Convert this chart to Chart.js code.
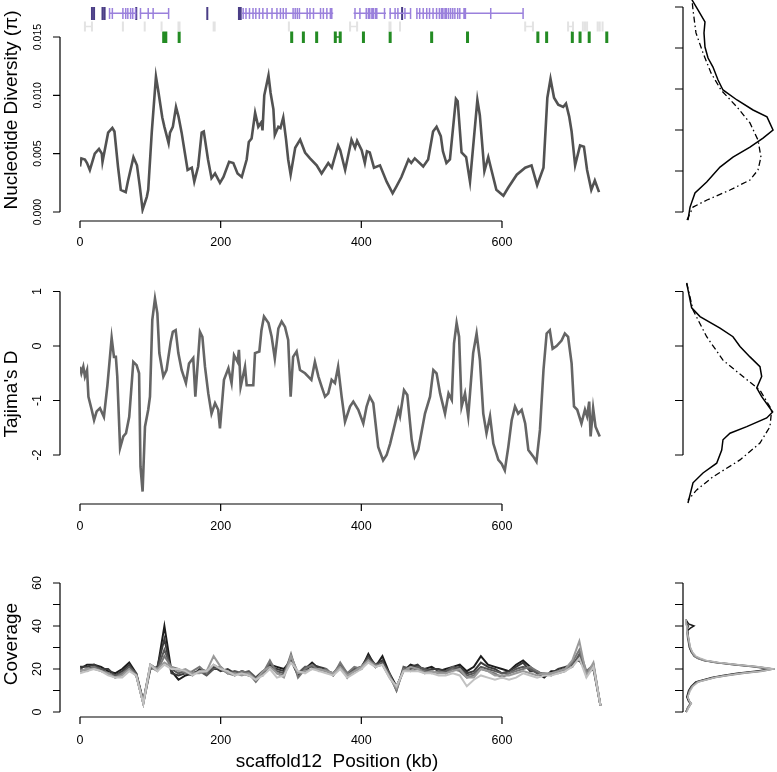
<!DOCTYPE html>
<html>
<head>
<meta charset="utf-8">
<script src="https://cdn.jsdelivr.net/npm/chart.js@4.4.1/dist/chart.umd.min.js"></script>
<style>
html, body { margin: 0; padding: 0; background: #fff; overflow: hidden; }
canvas { position: absolute; }
</style>
</head>
<body>
<canvas id="piChart" width="640" height="260" style="left:0;top:0"></canvas>
<canvas id="piDens" width="137" height="260" style="left:640px;top:0"></canvas>
<canvas id="tajChart" width="640" height="280" style="left:0;top:260px"></canvas>
<canvas id="tajDens" width="137" height="280" style="left:640px;top:260px"></canvas>
<canvas id="covChart" width="640" height="232" style="left:0;top:540px"></canvas>
<canvas id="covDens" width="137" height="232" style="left:640px;top:540px"></canvas>
<script>
// nucleotide diversity along scaffold12 (position in kb)
var piPos = [0,2,7,10,14,21,27,31,32,40,46,49,54,58,65,68,76,81,85,89,95,97,102,108,111,117,120,126,128,132,
  136.5,140,144.5,149,153,159,162.5,168,173,176,182,187,192,199,204,212,218,224,230,237,240,244,249,253.5,258,259.5,
  262,268,271,275,277,282,285,289,293,296,299.5,306,313,320,327,336.5,343.5,353,358,367,370,377,386,391,394,400.5,
  405,408,412,418,426.5,436,444.5,450,457,467,471,476,488,495,502,507,513,516,521,526,534.5,537,542.5,549,554.5,
  565,568.5,575,580.5,585,592,602,609,621,633,642,650,659,664.5,669,674,680,687,691,695.5,699,704,711,716.5,721,
  727,732,738];
var piVal = [0.0039,0.0046,0.0045,0.0042,0.0036,0.0050,0.0054,0.0050,0.0043,0.0068,0.0072,0.0069,0.0039,0.0019,
  0.0017,0.0026,0.0047,0.0040,0.0022,0.0002,0.0013,0.0019,0.0068,0.0116,0.0105,0.0081,0.0073,0.0059,0.0068,0.0073,
  0.0090,0.0082,0.0068,0.0051,0.0036,0.0038,0.0026,0.0039,0.0068,0.0069,0.0045,0.0029,0.0033,0.0025,0.0030,0.0043,
  0.0042,0.0033,0.0030,0.0045,0.0060,0.0063,0.0085,0.0073,0.0077,0.0070,0.0100,0.0117,0.0102,0.0088,0.0066,0.0073,
  0.0072,0.0081,0.0062,0.0045,0.0032,0.0055,0.0062,0.0051,0.0046,0.0040,0.0033,0.0042,0.0038,0.0057,0.0053,0.0036,
  0.0062,0.0055,0.0061,0.0053,0.0042,0.0052,0.0051,0.0038,0.0040,0.0026,0.0016,0.0022,0.0030,0.0045,0.0042,0.0046,
  0.0039,0.0045,0.0069,0.0073,0.0065,0.0052,0.0042,0.0045,0.0097,0.0095,0.0051,0.0047,0.0026,0.0096,0.0083,0.0035,
  0.0047,0.0036,0.0019,0.0014,0.0021,0.0032,0.0038,0.0040,0.0023,0.0038,0.0098,0.0114,0.0098,0.0092,0.0090,0.0093,
  0.0082,0.0069,0.0040,0.0057,0.0056,0.0036,0.0019,0.0027,0.0017];

// Tajima's D
var tajPos = [0,2,4.7,7,10,12,16.6,20,23.7,28.4,34,39,45,48.3,51,53,57,61.6,65.4,70,75.8,80.5,84,86,89,92.4,97,
  99.5,102.8,106.6,110,112.8,118.5,123,129,132,136,139.8,144.5,150.6,155,161,164,170.6,174,177.7,182.4,187,192,
  196.5,199,204.7,211,215.5,219,224,226,228.4,234.6,237,246.4,248.8,255,258,261.6,268,272.5,277,282,286.7,291.5,
  296,299.5,303,308,312.8,320,329,334,339,343.7,348.4,353,357.8,362.5,367,372,376.8,383.9,388.6,395.7,402.8,407.5,
  412,417,424,431,436,441,448,452.6,455,460.7,465.4,471.6,476,481,490.5,497.7,502.4,507,512,519,524,528.6,531.8,
  535.5,539,542.6,547.4,552,559,563.9,568.6,573.4,578,583,587.7,594.8,599.5,604,609,613.8,618.5,623,628,633,637.5,
  644.6,649,654,659,663.5,668,672,677.6,684.7,689.4,694,699,702.4,707,713,718,721,724,726,729.6,733,739];
var tajVal = [-0.38,-0.50,-0.38,-0.56,-0.44,-0.93,-1.17,-1.36,-1.20,-1.14,-1.30,-0.72,0.15,-0.20,-0.20,-0.56,-1.87,
  -1.66,-1.60,-1.30,-0.29,-0.35,-0.50,-2.21,-2.67,-1.48,-1.17,-0.93,0.48,0.87,0.60,-0.13,-0.56,-0.44,0.08,0.26,0.29,
  -0.13,-0.44,-0.68,-0.32,-0.22,-0.93,0.26,0.17,-0.38,-0.87,-1.24,-1.05,-1.17,-1.51,-0.62,-0.41,-0.68,-0.17,-0.29,
  -0.07,-0.75,-0.38,-0.72,-0.72,-0.13,-0.10,0.29,0.54,0.42,0.17,-0.23,0.32,0.45,0.35,0.11,-0.93,-0.20,-0.10,-0.44,
  -0.50,-0.62,-0.29,-0.56,-0.75,-0.93,-0.87,-0.62,-0.68,-0.38,-0.93,-1.39,-1.11,-1.02,-1.17,-1.42,-1.11,-0.93,-1.05,
  -1.85,-2.10,-2.00,-1.79,-1.42,-1.17,-1.29,-0.81,-0.90,-1.72,-2.03,-1.90,-1.24,-0.93,-0.44,-0.50,-0.87,-1.24,-0.87,
  -0.99,0.05,0.42,0.17,-1.11,-0.87,-1.29,-0.13,0.23,-0.26,-1.24,-1.60,-1.29,-1.79,-2.09,-2.16,-2.28,-1.85,-1.36,
  -1.11,-1.24,-1.17,-1.42,-1.91,-2.03,-2.12,-1.54,-0.44,0.23,0.29,-0.05,0.00,0.10,0.23,0.17,-0.32,-1.11,-1.17,-1.42,
  -1.17,-1.29,-1.02,-1.66,-1.14,-1.48,-1.66];

// coverage per sample, 10 kb windows
var covPos = [0,10,20,30,40,50,60,70,80,90,100,110,120,130,140,150,160,170,180,190,200,210,220,230,240,250,260,
  270,280,290,300,310,320,330,340,350,360,370,380,390,400,410,420,430,440,450,460,470,480,490,500,510,520,530,540,
  550,560,570,580,590,600,610,620,630,640,650,660,670,680,690,700,710,720,730,740];
var covS1 = [20,22,22,21,19,18,20,23,18,5,21,20,40,19,15,17,18,19,18,20,20,19,17,19,18,15,18,22,21,20,24,17,20,23,
  20,19,18,21,17,19,20,27,21,26,18,12,19,22,21,20,21,19,20,21,22,19,21,26,22,21,20,19,22,24,21,18,16,19,19,20,23,
  24,19,21,3];
var covS2 = [21,21,22,20,20,17,19,22,17,4,20,21,34,18,17,18,17,20,19,21,19,20,18,18,17,16,19,21,20,19,25,18,19,22,
  21,20,17,22,18,20,21,26,22,24,17,11,20,21,22,19,20,20,19,20,21,18,19,23,21,20,18,19,21,23,19,19,17,18,20,21,22,
  26,18,20,3];
var covS3 = [19,20,21,20,18,17,18,21,18,5,22,20,29,20,18,19,18,19,17,20,21,18,19,18,19,16,17,23,19,18,26,18,21,21,
  20,19,18,22,16,20,21,25,21,23,18,10,21,20,21,20,19,18,19,21,20,17,18,21,20,19,18,18,20,21,20,18,18,17,19,20,21,
  27,17,22,3];
var covS4 = [20,19,21,19,18,16,18,20,17,4,21,19,26,21,20,18,19,21,18,22,20,18,17,19,18,14,18,24,18,17,27,16,20,22,
  19,20,17,23,18,21,20,24,22,22,17,10,20,19,20,19,18,19,18,20,19,16,17,20,19,18,16,18,19,20,21,19,17,18,18,19,23,
  29,19,22,3];
var covS5 = [19,20,20,19,18,16,17,20,17,4,22,20,23,21,19,20,18,18,19,26,21,18,18,17,18,15,19,21,18,16,26,18,19,20,
  20,19,18,21,17,19,21,24,21,22,16,11,19,21,20,18,19,18,18,19,20,16,16,20,19,17,17,17,18,19,18,17,18,18,19,20,24,
  33,17,23,3];
var covS6 = [18,19,20,19,17,16,16,19,17,4,22,19,22,20,20,19,17,19,19,22,20,19,17,18,17,15,17,20,16,17,23,19,18,20,
  19,18,17,20,16,18,20,23,21,22,16,12,19,19,19,18,18,17,17,18,17,12,15,17,16,15,16,15,16,18,17,16,17,17,18,19,21,
  25,16,21,3];
var covSeries = [covS1, covS2, covS3, covS4, covS5, covS6];
var covColors = ['#1c1c1c', '#3a3a3a', '#595959', '#777777', '#9a9a9a', '#c2c2c2'];

// gene annotation track (kb)
var geneLines = [[42,80],[85,126],[230,360],[389,435],[440,470],[478,630]];
var exonTicks = [42,46,61,65,68,72,75,79,86,97,104,126,232,236,241,246,250,255,260,266,273,280,285,289,293,303,306,
  309,312,323,327,332,342,346,351,356,358,391,398,407,410,412,415,417,420,422,433,441,448,452,462,470,479,483,488,
  493,497,502,507,511,514,516,519,521,524,527,530,533,537,540,546,548,584,630];
var darkTicks = [17,20,32,35,80,181,226,228.5,458];
var grayTicks = [61,92,116,140,141.5,190,191.5,297,440,441.5,455,715,718,721,736,739,743];
var grayBoxes = [[7,17],[384,394],[633,644],[694,701]];
var greenTicks = [119,122,141,301,317.6,336.5,403,441,500,551,651,663.5,700,711,724,749];
var greenBoxes = [[363,370]];

// marginal densities
var piDensSolidY = [-0.00049,0.0003,0.00116,0.00183,0.00274,0.00335,0.00396,0.00451,0.0050,0.0058,0.00622,0.00683,
  0.00744,0.00805,0.00884,0.00939,0.01006,0.01092,0.01159,0.01232,0.01293];
var piDensSolidX = [0.033,0.056,0.111,0.241,0.389,0.533,0.722,0.867,0.978,0.911,0.756,0.578,0.422,0.367,0.311,0.256,
  0.222,0.211,0.222,0.144,0.078];
var piDensDashY = [-0.00049,0.0003,0.00073,0.00134,0.00195,0.00256,0.00335,0.00439,0.00543,0.0064,0.00744,0.00848,
  0.0097,0.01092,0.01232,0.01293];
var piDensDashX = [0.022,0.089,0.244,0.5,0.722,0.811,0.844,0.811,0.722,0.578,0.4,0.289,0.2,0.122,0.089,0.078];

var tajDensSolidY = [1.15,0.70,0.54,0.33,0.17,-0.01,-0.20,-0.38,-0.56,-0.77,-0.93,-1.21,-1.32,-1.48,-1.60,-1.72,
  -1.91,-2.15,-2.33,-2.51,-2.88];
var tajDensSolidX = [0.019,0.074,0.167,0.389,0.533,0.611,0.722,0.833,0.852,0.797,0.852,0.974,0.908,0.686,0.5,0.422,
  0.408,0.352,0.2,0.089,0.033];
var tajDensDashY = [1.16,0.66,0.17,-0.26,-0.56,-0.81,-1.17,-1.48,-1.78,-2.09,-2.40,-2.64,-2.83];
var tajDensDashX = [0.019,0.089,0.241,0.422,0.644,0.833,0.963,0.944,0.833,0.611,0.311,0.13,0.033];

var covDensY = [0,2,4,5,7,10,12,14,16,17,18,19,20,21,22,23,24,25,26,28,30,34,38,39,40,41,43];
var covDens1 = [.01,.03,.06,.04,.02,.04,.07,.12,.30,.42,.58,.78,.97,.80,.58,.36,.22,.15,.11,.07,.05,.04,.03,.06,.10,.04,.01];
var covDens2 = [.01,.04,.07,.05,.03,.05,.08,.13,.32,.45,.62,.82,.93,.76,.54,.34,.21,.14,.10,.07,.05,.03,.02,.03,.04,.02,.01];
var covDens3 = [.01,.03,.06,.05,.03,.05,.08,.14,.34,.48,.66,.86,.98,.78,.55,.33,.20,.14,.10,.08,.06,.04,.02,.02,.02,.01,.01];
var covDens4 = [.02,.04,.07,.05,.03,.06,.09,.15,.33,.46,.63,.84,.99,.82,.60,.38,.24,.17,.12,.08,.06,.04,.02,.02,.02,.01,.01];
var covDensSeries = [covDens1, covDens2, covDens3, covDens4];
var covDensColors = ['#1c1c1c', '#555555', '#888888', '#b5b5b5'];

var FONT = '"Liberation Sans", Arial, sans-serif';

// R-style axes: detached from the plot region, line only between first and last tick
var rAxes = {
  id: 'rAxes',
  afterDraw: function(chart, args, o) {
    var ctx = chart.ctx, area = chart.chartArea;
    ctx.save();
    ctx.strokeStyle = '#000';
    ctx.fillStyle = '#000';
    ctx.lineWidth = 1.2;
    if (o.x) {
      var sx = chart.scales.x, y0 = area.bottom + o.x.offset;
      var px = o.x.ticks.map(function(v) { return sx.getPixelForValue(v); });
      ctx.beginPath();
      ctx.moveTo(px[0], y0);
      ctx.lineTo(px[px.length - 1], y0);
      px.forEach(function(p) { ctx.moveTo(p, y0); ctx.lineTo(p, y0 + 7); });
      ctx.stroke();
      ctx.font = '12.5px ' + FONT;
      ctx.textAlign = 'center';
      ctx.textBaseline = 'middle';
      o.x.ticks.forEach(function(v, i) { ctx.fillText(String(v), px[i], y0 + o.x.labelGap); });
    }
    if (o.y) {
      var sy = chart.scales.y, x0 = area.left - o.y.offset;
      var py = o.y.ticks.map(function(v) { return sy.getPixelForValue(v); });
      ctx.beginPath();
      ctx.moveTo(x0, py[0]);
      ctx.lineTo(x0, py[py.length - 1]);
      py.forEach(function(p) { ctx.moveTo(x0, p); ctx.lineTo(x0 - o.y.tickLen, p); });
      ctx.stroke();
      if (o.y.labels) {
        ctx.font = o.y.font;
        ctx.textAlign = 'center';
        ctx.textBaseline = 'middle';
        o.y.labels.forEach(function(lab, i) {
          if (!lab) return;
          ctx.save();
          ctx.translate(x0 - o.y.labelGap, py[i]);
          ctx.rotate(-Math.PI / 2);
          ctx.fillText(lab, 0, 0);
          ctx.restore();
        });
      }
    }
    ctx.font = '19px ' + FONT;
    ctx.textAlign = 'center';
    ctx.textBaseline = 'middle';
    if (o.yTitle) {
      ctx.save();
      ctx.translate(o.yTitle.x, o.yTitle.y);
      ctx.rotate(-Math.PI / 2);
      ctx.fillText(o.yTitle.text, 0, 0);
      ctx.restore();
    }
    if (o.xTitle) {
      ctx.fillText(o.xTitle.text, o.xTitle.x, o.xTitle.y);
    }
    ctx.restore();
  }
};

function pairs(xs, ys) {
  return xs.map(function(x, i) { return {x: x, y: ys[i]}; });
}
function tickMarks(pos, lo, hi) {
  var d = [];
  pos.forEach(function(p) { d.push({x: p, y: lo}, {x: p, y: hi}, {x: p, y: null}); });
  return d;
}
function spanMarks(spans, y) {
  var d = [];
  spans.forEach(function(s) { d.push({x: s[0], y: y}, {x: s[1], y: y}, {x: s[1], y: null}); });
  return d;
}
function trackSet(data, color, width) {
  return {data: data, yAxisID: 'track', borderColor: color, borderWidth: width, pointRadius: 0, spanGaps: false};
}

function baseOptions(padding, scales, axes) {
  return {
    responsive: false,
    animation: false,
    events: [],
    layout: {padding: padding},
    plugins: {legend: {display: false}, tooltip: {enabled: false}, rAxes: axes},
    elements: {point: {radius: 0}, line: {tension: 0}},
    scales: scales
  };
}

// ---- top: nucleotide diversity with gene track
new Chart(document.getElementById('piChart'), {
  type: 'line',
  data: {
    datasets: [
      trackSet(spanMarks(geneLines, 20.07), '#9a80dc', 1.5),
      trackSet(tickMarks(exonTicks, 19.5, 20.6), '#9a80dc', 1.5),
      trackSet(tickMarks(darkTicks, 19.4, 20.7), '#4a3d86', 2),
      trackSet(spanMarks(grayBoxes, 18.75), '#e3e3e3', 1.5),
      trackSet(tickMarks(grayBoxes.map(function(b) { return b[0]; }).concat(grayBoxes.map(function(b) { return b[1]; })), 18.25, 19.25), '#e3e3e3', 2),
      trackSet(tickMarks(grayTicks, 18.25, 19.25), '#e3e3e3', 2),
      trackSet(spanMarks(greenBoxes, 17.7), '#238b23', 1.5),
      trackSet(tickMarks(greenBoxes.map(function(b) { return b[0]; }).concat(greenBoxes.map(function(b) { return b[1]; })), 17.1, 18.25), '#238b23', 3),
      trackSet(tickMarks(greenTicks, 17.1, 18.25), '#238b23', 3),
      {data: pairs(piPos, piVal), borderColor: '#525252', borderWidth: 2.6, pointRadius: 0}
    ]
  },
  options: baseOptions({left: 80, right: 29, top: 0, bottom: 46}, {
    x: {type: 'linear', display: false, min: 0, max: 755},
    y: {type: 'linear', display: false, min: -0.000171, max: 0.018171},
    track: {type: 'linear', display: false, min: 0, max: 21.4}
  }, {
    x: {ticks: [0, 200, 400, 600], offset: 7, labelGap: 22},
    y: {ticks: [0, 0.005, 0.01, 0.015], labels: ['0.000', '0.005', '0.010', '0.015'], offset: 20, tickLen: 7,
        labelGap: 22, font: '10.5px ' + FONT},
    yTitle: {text: 'Nucleotide Diversity (\u03c0)', x: 12, y: 110}
  }),
  plugins: [rAxes]
});

// ---- middle: Tajima's D
new Chart(document.getElementById('tajChart'), {
  type: 'line',
  data: {datasets: [{data: pairs(tajPos, tajVal), borderColor: '#656565', borderWidth: 2.6, pointRadius: 0}]},
  options: baseOptions({left: 80, right: 29, top: 0, bottom: 44}, {
    x: {type: 'linear', display: false, min: 0, max: 755},
    y: {type: 'linear', display: false, min: -2.752, max: 1.578}
  }, {
    x: {ticks: [0, 200, 400, 600], offset: 8, labelGap: 23},
    y: {ticks: [-2, -1, 0, 1], labels: ['-2', '-1', '0', '1'], offset: 20, tickLen: 7, labelGap: 22,
        font: '12.5px ' + FONT},
    yTitle: {text: "Tajima's D", x: 12, y: 134}
  }),
  plugins: [rAxes]
});

// ---- bottom: coverage per sample (lighter samples drawn on top)
new Chart(document.getElementById('covChart'), {
  type: 'line',
  data: {
    datasets: covSeries.map(function(s, i) {
      return {data: pairs(covPos, s), borderColor: covColors[i], borderWidth: 2, pointRadius: 0};
    }).reverse()
  },
  options: baseOptions({left: 80, right: 29, top: 0, bottom: 58}, {
    x: {type: 'linear', display: false, min: 0, max: 755},
    y: {type: 'linear', display: false, min: -0.93, max: 80}
  }, {
    x: {ticks: [0, 200, 400, 600], offset: 3, labelGap: 24},
    y: {ticks: [0, 10, 20, 30, 40, 50, 60], labels: ['0', '', '20', '', '40', '', '60'], offset: 20, tickLen: 7,
        labelGap: 22, font: '12.5px ' + FONT},
    yTitle: {text: 'Coverage', x: 12, y: 104},
    xTitle: {text: 'scaffold12  Position (kb)', x: 337, y: 222}
  }),
  plugins: [rAxes]
});

// ---- marginal density panels
function densScales(ymin, ymax) {
  return {
    x: {type: 'linear', display: false, min: 0, max: 1},
    y: {type: 'linear', display: false, min: ymin, max: ymax}
  };
}
var dashDot = [6, 3, 1.5, 3];

new Chart(document.getElementById('piDens'), {
  type: 'line',
  data: {datasets: [
    {data: pairs(piDensSolidX, piDensSolidY), borderColor: '#000', borderWidth: 1.5, pointRadius: 0},
    {data: pairs(piDensDashX, piDensDashY), borderColor: '#000', borderWidth: 1.3, borderDash: dashDot, pointRadius: 0}
  ]},
  options: baseOptions({left: 45, right: 2, top: 0, bottom: 38}, densScales(-0.00061, 0.012927), {
    y: {ticks: [0, 0.0025, 0.005, 0.0075, 0.01, 0.0125], offset: 2, tickLen: 8}
  }),
  plugins: [rAxes]
});

new Chart(document.getElementById('tajDens'), {
  type: 'line',
  data: {datasets: [
    {data: pairs(tajDensSolidX, tajDensSolidY), borderColor: '#000', borderWidth: 1.5, pointRadius: 0},
    {data: pairs(tajDensDashX, tajDensDashY), borderColor: '#000', borderWidth: 1.3, borderDash: dashDot, pointRadius: 0}
  ]},
  options: baseOptions({left: 45, right: 2, top: 0, bottom: 30}, densScales(-3.009, 1.578), {
    y: {ticks: [-2, -1, 0, 1], offset: 2, tickLen: 8}
  }),
  plugins: [rAxes]
});

new Chart(document.getElementById('covDens'), {
  type: 'line',
  data: {datasets: covDensSeries.map(function(s, i) {
    return {data: pairs(s, covDensY), borderColor: covDensColors[i], borderWidth: 1.5, pointRadius: 0};
  }).reverse()},
  options: baseOptions({left: 45, right: 2, top: 0, bottom: 56}, densScales(-1.86, 80), {
    y: {ticks: [0, 10, 20, 30, 40, 50, 60], offset: 2, tickLen: 8}
  }),
  plugins: [rAxes]
});
</script>
</body>
</html>
